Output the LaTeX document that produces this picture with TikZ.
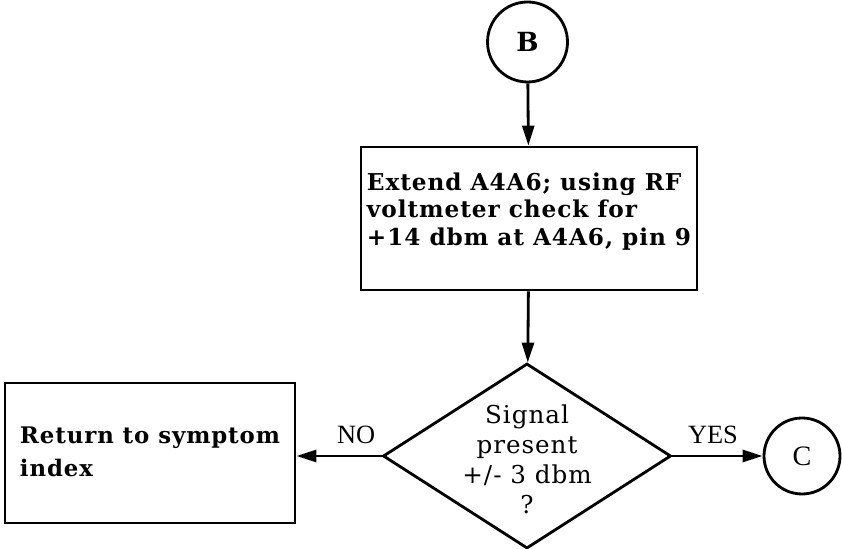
\documentclass[tikz,border=0pt]{standalone}
\usepackage{fontspec}
\usepackage{tikz}
\usetikzlibrary{arrows.meta,shapes.geometric}
\newfontfamily\boxfont[LetterSpace=4]{DejaVu Serif}
\newfontfamily\tagfont{Liberation Serif}

\begin{document}
\begin{tikzpicture}[
    line width=1.6pt,
    stepbox/.style={draw,rectangle,inner sep=0pt},
    decide/.style={draw,diamond,inner sep=0pt,minimum width=5.76cm,minimum height=3.7cm},
    conn/.style={draw,circle,inner sep=0pt},
    arr/.style={-{Triangle[length=0.4cm,width=0.24cm]}},
    tag/.style={font=\tagfont\fontsize{15}{17}\selectfont,above=0.1cm}
  ]
  \useasboundingbox (0,0) rectangle (16.84,10.98);
  % connectors B and C
  \node[conn,minimum size=1.6cm,font=\boxfont\bfseries\fontsize{15}{17}\selectfont] (b) at (10.55,10.14) {B};
  \node[conn,minimum size=1.52cm,font=\tagfont\fontsize{16}{18}\selectfont] (c) at (16.04,1.86) {C};
  % check step
  \node[stepbox,minimum width=6.72cm,minimum height=2.86cm,font=\boxfont\bfseries\fontsize{13.2}{15.6}\selectfont] (ext) at (10.58,6.61)
    {\begin{tabular}{@{}l@{}}Extend A4A6; using RF\\voltmeter check for\\+14 dbm at A4A6, pin 9\\[0.24cm]\end{tabular}};
  % decision
  \node[decide,font=\boxfont\fontsize{14}{17}\selectfont] (sig) at (10.54,1.86)
    {\smash{\raisebox{-0.26cm}{\begin{tabular}{@{}c@{}}Signal\\present\\+/- 3 dbm\\?\end{tabular}}}};
  % back to index
  \node[stepbox,minimum width=5.8cm,minimum height=2.8cm,font=\boxfont\bfseries\fontsize{13}{18.8}\selectfont] (ret) at (3.0,1.92)
    {\begin{tabular}{@{}l@{}}Return to symptom\\index\end{tabular}};
  \draw[arr] (b) -- (ext);
  \draw[arr] (ext) -- (sig);
  \draw[arr] (sig.west) -- node[tag,pos=0.3] (no) {NO} (sig.west -| ret.east);
  \draw[arr] (sig.east) -- node[tag,pos=0.45] (yes) {YES} (c.west);
\end{tikzpicture}
\end{document}
